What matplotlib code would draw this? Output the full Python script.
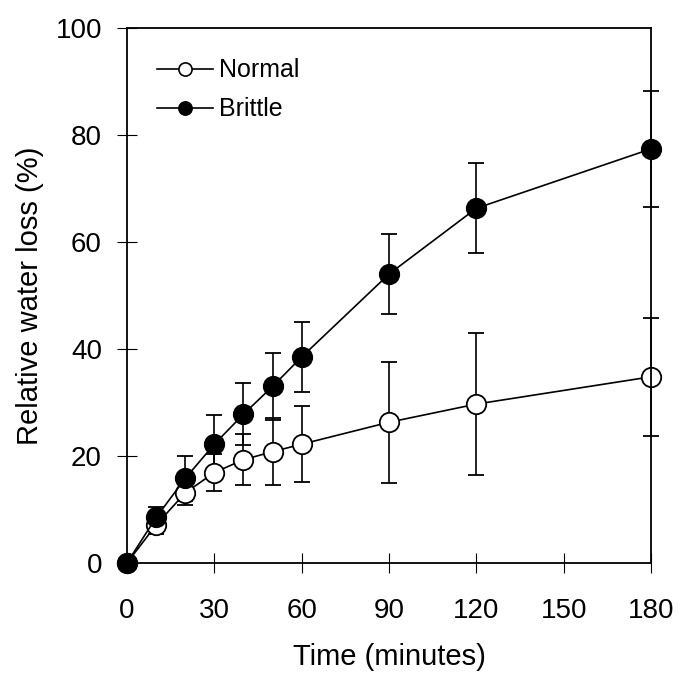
import numpy as np
import matplotlib
import matplotlib.pyplot as plt
from matplotlib.lines import Line2D

matplotlib.use('agg')
plt.rcParams['font.family'] = ['Liberation Sans', 'DejaVu Sans']

# data
time_min = [0, 10, 20, 30, 40, 50, 60, 90, 120, 180]
normal_mean = [0, 7.1, 13.1, 16.9, 19.3, 20.8, 22.2, 26.3, 29.7, 34.8]
normal_err = [0, 1.6, 2.3, 3.5, 4.8, 6.3, 7.1, 11.3, 13.3, 11.0]
brittle_mean = [0, 8.5, 15.8, 22.2, 27.8, 33.0, 38.5, 54.0, 66.3, 77.4]
brittle_err = [0, 2.0, 4.2, 5.4, 5.8, 6.2, 6.5, 7.4, 8.4, 10.8]

xticks = [0, 30, 60, 90, 120, 150, 180]
yticks = [0, 20, 40, 60, 80, 100]

fig = plt.figure(figsize=(6.78, 6.73), dpi=100)
ax = fig.add_axes([0.1873, 0.1635, 0.9602 - 0.1873, 0.9584 - 0.1635])

lw = 1.2
for mean, err, face in [(normal_mean, normal_err, 'white'),
                        (brittle_mean, brittle_err, 'black')]:
    ax.errorbar(time_min, mean, yerr=err, fmt='-o', color='black', lw=lw,
                elinewidth=lw, capsize=6, capthick=lw, ms=14,
                mfc=face, mec='black', mew=1.3, clip_on=False)

ax.set_xlim(0, 180)
ax.set_ylim(0, 100)
ax.set_xticks(xticks)
ax.set_yticks(yticks)
ax.tick_params(direction='inout', length=14, width=0.8, labelsize=20, color='black')
ax.tick_params(axis='x', pad=18)
ax.tick_params(axis='y', pad=11)
for s in ax.spines.values():
    s.set_linewidth(1.3)

ax.set_xlabel('Time (minutes)', fontsize=21, labelpad=14)
ax.set_ylabel('Relative water loss (%)', fontsize=21, labelpad=8)

handles = [Line2D([], [], color='black', lw=lw, marker='o', ms=9.5, mfc='white', mec='black', mew=1.2),
           Line2D([], [], color='black', lw=lw, marker='o', ms=9.5, mfc='black', mec='black', mew=1.2)]
ax.legend(handles, ['Normal', 'Brittle'], loc='upper left', frameon=False,
          fontsize=18, handlelength=2.24, handletextpad=0.25, labelspacing=0.6,
          bbox_to_anchor=(0.038, 0.962), borderaxespad=0)

fig.savefig('out.png', dpi=100, facecolor='white')
